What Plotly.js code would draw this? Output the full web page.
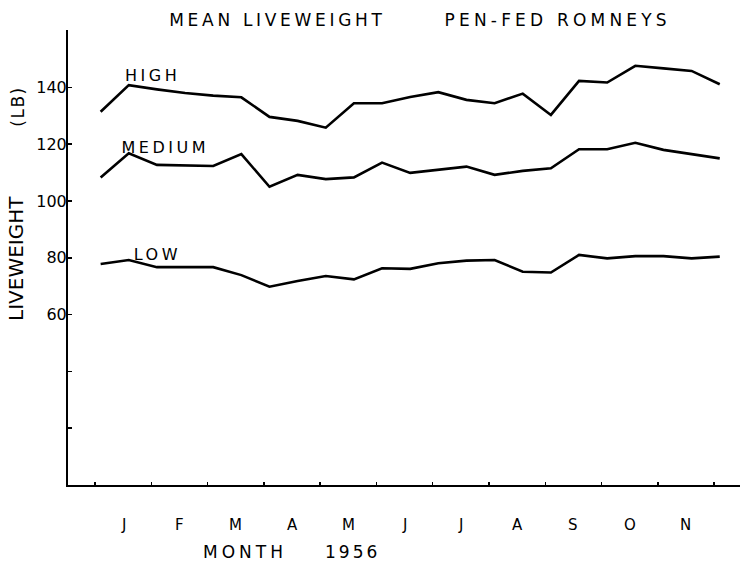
<!DOCTYPE html>
<html>
<head>
<meta charset="utf-8">
<script src="https://cdn.plot.ly/plotly-3.0.1.min.js"></script>
<style>html,body{margin:0;padding:0;background:#fff}</style>
</head>
<body>
<div id="chart" style="width:740px;height:566px"></div>
<script>
// x: fortnightly weighings, in months from 1 Jan 1956
const weighMonths = [0.1,0.6,1.1,1.6,2.1,2.6,3.1,3.6,4.1,4.6,5.1,5.6,6.1,6.6,7.1,7.6,8.1,8.6,9.1,9.6,10.1,10.6,11.1];
const highLb   = [131.4,140.8,139.3,138.0,137.1,136.5,129.6,128.2,125.8,134.4,134.4,136.6,138.3,135.6,134.4,137.8,130.3,142.3,141.7,147.6,146.7,145.8,141.1];
const mediumLb = [108.3,116.8,112.7,112.5,112.3,116.5,105.0,109.2,107.7,108.3,113.5,109.9,110.9,112.1,109.2,110.6,111.5,118.2,118.2,120.5,118.0,116.4,115.0];
const lowLb    = [77.8,79.2,76.7,76.7,76.7,73.9,69.8,71.8,73.6,72.4,76.3,76.1,78.1,79.0,79.2,75.1,74.8,81.0,79.8,80.6,80.6,79.8,80.4];
const seriesNames = ['HIGH','MEDIUM','LOW'];

const monthBoundaries = [0,1,2,3,4,5,6,7,8,9,10,11];
const monthCentres = [0.5,1.5,2.5,3.5,4.5,5.5,6.5,7.5,8.5,9.5,10.5];
const monthLetters = ['J','F','M','A','M','J','J','A','S','O','N'];
const yTickVals = [20,40,60,80,100,120,140];
const yTickText = ['','','60','80','100','120','140'];

const FONT = 'DejaVu Sans, sans-serif';
const lineStyle = {color:'#000', width:2.6};

const traces = [highLb, mediumLb, lowLb].map((ys,i)=>({
  x: weighMonths, y: ys, type:'scatter', mode:'lines',
  name: seriesNames[i], line: lineStyle, hoverinfo:'skip'
}));

const anns = [];
const spacing = [];
function addAnn(a, ls){
  anns.push(Object.assign({showarrow:false, xanchor:'center', yanchor:'middle'}, a));
  spacing.push(ls);
}
// series labels
const seriesLabelPos = [[1.03,144.2],[1.25,119.0],[1.11,81.0]];
seriesNames.forEach((n,i)=>addAnn({text:n, x:seriesLabelPos[i][0], y:seriesLabelPos[i][1], xref:'x', yref:'y',
  font:{family:FONT,size:16,color:'#000'}}, 3.5));
// month letters
monthLetters.forEach((m,i)=>addAnn({text:m, x:monthCentres[i], y:-0.088, xref:'x', yref:'paper',
  font:{family:FONT,size:15,color:'#000'}}, 0));
// title
addAnn({text:'MEAN LIVEWEIGHT', x:0.313, y:1.023, xref:'paper', yref:'paper',
  font:{family:FONT,size:17,color:'#000'}}, 3.7);
addAnn({text:'PEN-FED ROMNEYS', x:0.728, y:1.023, xref:'paper', yref:'paper',
  font:{family:FONT,size:17,color:'#000'}}, 4.2);
// x title
addAnn({text:'MONTH', x:0.2634, y:-0.147, xref:'paper', yref:'paper',
  font:{family:FONT,size:17,color:'#000'}}, 4);
addAnn({text:'1956', x:0.424, y:-0.147, xref:'paper', yref:'paper',
  font:{family:FONT,size:17,color:'#000'}}, 3);
// y title
addAnn({text:'LIVEWEIGHT', x:-0.0774, y:0.499, xref:'paper', yref:'paper', textangle:-90,
  font:{family:FONT,size:20,color:'#000'}}, 0);
addAnn({text:'(LB)', x:-0.074, y:0.832, xref:'paper', yref:'paper', textangle:-90,
  font:{family:FONT,size:17,color:'#000'}}, 1.5);

const layout = {
  width:740, height:566,
  margin:{l:68, r:0, t:30, b:81, pad:0},
  paper_bgcolor:'#fff', plot_bgcolor:'#fff',
  showlegend:false,
  font:{family:FONT, color:'#000'},
  xaxis:{range:[-0.48,11.46], tickmode:'array', tickvals:monthBoundaries, showticklabels:false,
    ticks:'inside', ticklen:3, tickwidth:1.5, tickcolor:'#000',
    showline:true, linecolor:'#000', linewidth:2, showgrid:false, zeroline:false},
  yaxis:{range:[0,160.2], tickmode:'array', tickvals:yTickVals, ticktext:yTickText,
    ticks:'inside', ticklen:4, tickwidth:1.5, tickcolor:'#000',
    showline:true, linecolor:'#000', linewidth:2, showgrid:false, zeroline:false,
    tickfont:{family:FONT, size:16, color:'#000'}},
  annotations:anns
};

Plotly.newPlot('chart', traces, layout, {staticPlot:true}).then(()=>{
  document.querySelectorAll('.annotation-text').forEach((el,i)=>{
    if (spacing[i]) el.style.letterSpacing = spacing[i] + 'px';
  });
  // nudge y tick labels closer to the axis line, as in the original
  document.querySelectorAll('.ytick text').forEach(el=>{
    const x = parseFloat(el.getAttribute('x') || '0');
    el.setAttribute('x', x + 4);
  });
});
</script>
</body>
</html>
